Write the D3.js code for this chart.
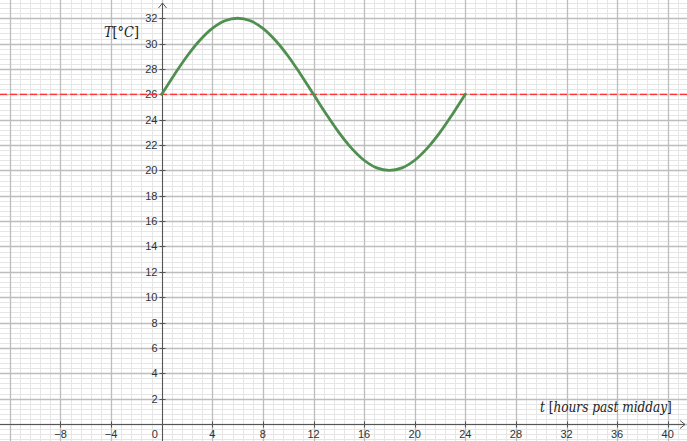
<!DOCTYPE html>
<html>
<head>
<meta charset="utf-8">
<script src="https://cdn.jsdelivr.net/npm/d3@7/dist/d3.min.js"></script>
<style>
    body { margin: 0; background: #fff; }
    svg { display: block; }
    .tick-label { font-family: "Liberation Sans", Arial, sans-serif; font-size: 11px; fill: #333; }
    .math { font-family: "DejaVu Serif", serif; font-size: 15px; fill: #222; }
</style>
</head>
<body>
<svg id="chart" width="687" height="441"></svg>
<script>
var width = 687;
var height = 441;

// hours past midday and temperature
var hours = [0, 1, 2, 3, 4, 5, 6, 7, 8, 9, 10, 11, 12, 13, 14, 15, 16, 17, 18, 19, 20, 21, 22, 23, 24];
var temps = [26, 27.55, 29, 30.24, 31.2, 31.8, 32, 31.8, 31.2, 30.24, 29, 27.55, 26, 24.45, 23, 21.76, 20.8, 20.2, 20, 20.2, 20.8, 21.76, 23, 24.45, 26];
var meanTemp = 26;

var xTicks = [-8, -4, 0, 4, 8, 12, 16, 20, 24, 28, 32, 36, 40];
var yTicks = [2, 4, 6, 8, 10, 12, 14, 16, 18, 20, 22, 24, 26, 28, 30, 32];

var xAxisLabel = 't';
var xAxisUnit = 'hours past midday';

var unitX = 12.65;
var unitY = 12.68;
var originX = 161.7;
var originY = 424;

var x = d3.scaleLinear().domain([0, 40]).range([originX, originX + 40 * unitX]);
var y = d3.scaleLinear().domain([0, 32]).range([originY, originY - 32 * unitY]);

var svg = d3.select('#chart');

var xMin = x.invert(0), xMax = x.invert(width);
var yMin = y.invert(height), yMax = y.invert(0);

var minorX = d3.range(Math.ceil(xMin / 0.8) * 0.8, xMax, 0.8);
var minorY = d3.range(Math.ceil(yMin / 0.4) * 0.4, yMax, 0.4);
var majorX = d3.range(Math.ceil(xMin / 4) * 4, xMax, 4);
var majorY = d3.range(Math.ceil(yMin / 2) * 2, yMax, 2);

function vLines(vals, color, w) {
    svg.append('g')
        .selectAll('line')
        .data(vals)
        .join('line')
        .attr('x1', function(d) { return Math.round(x(d)) + 0.5; })
        .attr('x2', function(d) { return Math.round(x(d)) + 0.5; })
        .attr('y1', 0)
        .attr('y2', height)
        .attr('stroke', color)
        .attr('stroke-width', w);
}

function hLines(vals, color, w) {
    svg.append('g')
        .selectAll('line')
        .data(vals)
        .join('line')
        .attr('y1', function(d) { return Math.round(y(d)) + 0.5; })
        .attr('y2', function(d) { return Math.round(y(d)) + 0.5; })
        .attr('x1', 0)
        .attr('x2', width)
        .attr('stroke', color)
        .attr('stroke-width', w);
}

// grid
vLines(minorX, '#e6e6e6', 1);
hLines(minorY, '#e6e6e6', 1);
vLines(majorX, '#bdbdbd', 1.3);
hLines(majorY, '#bdbdbd', 1.3);

// axes
var ax = Math.round(x(0)) + 0.5;
var ay = Math.round(y(0)) + 0.5;

svg.append('line')
    .attr('x1', 0).attr('x2', width - 2)
    .attr('y1', ay).attr('y2', ay)
    .attr('stroke', '#555').attr('stroke-width', 1);
svg.append('line')
    .attr('x1', ax).attr('x2', ax)
    .attr('y1', 3).attr('y2', height)
    .attr('stroke', '#555').attr('stroke-width', 1);

svg.append('path')
    .attr('d', 'M' + (ax - 4) + ',' + 8 + 'L' + ax + ',' + 3 + 'L' + (ax + 4) + ',' + 8)
    .attr('fill', 'none').attr('stroke', '#555').attr('stroke-width', 1);
svg.append('path')
    .attr('d', 'M' + (width - 7) + ',' + (ay - 4) + 'L' + (width - 2) + ',' + ay + 'L' + (width - 7) + ',' + (ay + 4))
    .attr('fill', 'none').attr('stroke', '#555').attr('stroke-width', 1);

// tick marks and labels
svg.append('g')
    .selectAll('line')
    .data(xTicks)
    .join('line')
    .attr('x1', function(d) { return Math.round(x(d)) + 0.5; })
    .attr('x2', function(d) { return Math.round(x(d)) + 0.5; })
    .attr('y1', ay - 3)
    .attr('y2', ay + 3)
    .attr('stroke', '#555');

svg.append('g')
    .selectAll('text')
    .data(xTicks)
    .join('text')
    .classed('tick-label', true)
    .attr('x', function(d) { return d === 0 ? x(d) - 7 : x(d); })
    .attr('y', ay + 13)
    .attr('text-anchor', 'middle')
    .text(function(d) { return d < 0 ? '\u2212' + (-d) : d; });

svg.append('g')
    .selectAll('line')
    .data(yTicks)
    .join('line')
    .attr('y1', function(d) { return Math.round(y(d)) + 0.5; })
    .attr('y2', function(d) { return Math.round(y(d)) + 0.5; })
    .attr('x1', ax - 3)
    .attr('x2', ax + 3)
    .attr('stroke', '#555');

svg.append('g')
    .selectAll('text')
    .data(yTicks)
    .join('text')
    .classed('tick-label', true)
    .attr('x', ax - 5)
    .attr('y', function(d) { return y(d) + 4; })
    .attr('text-anchor', 'end')
    .text(function(d) { return d; });

// mean temperature line
svg.append('line')
    .attr('x1', 0).attr('x2', width)
    .attr('y1', y(meanTemp)).attr('y2', y(meanTemp))
    .attr('stroke', '#ff3333')
    .attr('stroke-width', 1.2)
    .attr('stroke-dasharray', '7,3');

// temperature curve
var points = hours.map(function(h, i) { return [h, temps[i]]; });
var line = d3.line()
    .x(function(d) { return x(d[0]); })
    .y(function(d) { return y(d[1]); })
    .curve(d3.curveCatmullRom.alpha(0.5));

svg.append('path')
    .datum(points)
    .attr('d', line)
    .attr('fill', 'none')
    .attr('stroke', '#4f8f4f')
    .attr('stroke-width', 2.8)
    .attr('stroke-linecap', 'round');

// axis titles, squeezed horizontally to the reference width
function mathLabel(px, py, targetWidth, parts) {
    var g = svg.append('g');
    var t = g.append('text').classed('math', true).attr('x', 0).attr('y', 0);
    parts.forEach(function(p) {
        t.append('tspan').attr('font-style', p[1] ? 'italic' : 'normal').text(p[0]);
    });
    var w = t.node().getComputedTextLength();
    g.attr('transform', 'translate(' + px + ',' + py + ') scale(' + (targetWidth / w) + ',1)');
}

mathLabel(104, 37, 35, [['T', true], ['[°', false], ['C', true], [']', false]]);
mathLabel(540, 412, 132, [[xAxisLabel + ' ', true], ['[', false], [xAxisUnit, true], [']', false]]);
</script>
</body>
</html>
